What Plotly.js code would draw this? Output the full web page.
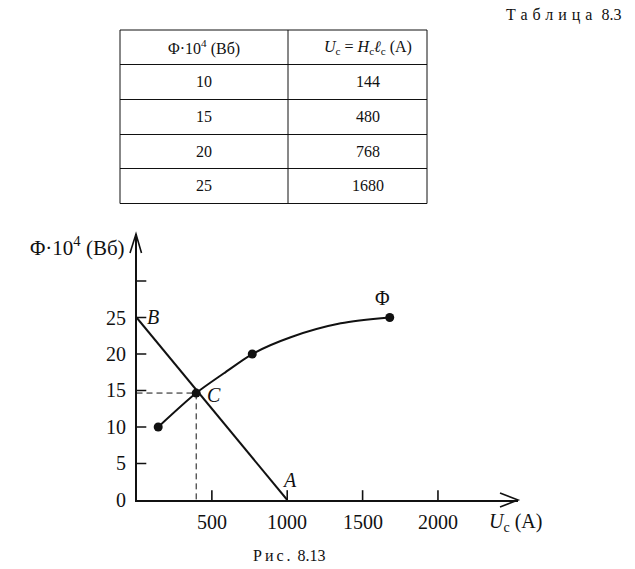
<!DOCTYPE html>
<html>
<head>
<meta charset="utf-8">
<script src="https://cdn.plot.ly/plotly-3.0.1.min.js"></script>
<style>html,body{margin:0;padding:0;background:#fff;}</style>
</head>
<body>
<div id="chart" style="width:635px;height:569px;"></div>
<script>
// ---- Table 8.3 data ----
const tableHeader = ["Φ·10<sup>4</sup> (Вб)", "<i>U</i><sub>c</sub> = <i>H</i><sub>c</sub><i>ℓ</i><sub>c</sub> (A)"];
const phiTable = [10, 15, 20, 25];
const ucTable = [144, 480, 768, 1680];

// ---- Fig. 8.13 data ----
const curveU   = [144, 396, 580, 768, 1023, 1355, 1680];
const curvePhi = [10, 14.65, 17.36, 20, 22.3, 24.2, 25];
const markU    = [144, 768, 1680];
const markPhi  = [10, 20, 25];
const lineABU   = [0, 1000];
const lineABPhi = [25, 0];
const pointCU   = 396;
const pointCPhi = 14.65;
const xTickVals = [500, 1000, 1500, 2000];
const xTickText = ["500", "1000", "1500", "2000"];
const yTickVals = [0, 5, 10, 15, 20, 25];
const yTickText = ["0", "5", "10", "15", "20", "25"];
const yTickMarks = [5, 10, 15, 20, 25, 30];

const W = 635, H = 569;
const px = v => v / W;
const py = v => 1 - v / H;
const serif = "Liberation Serif";
const ink = "#111";

// ---- table geometry (layout only) ----
const tblCols = [120, 288, 427];
const tblRows = [30, 64.5, 99.5, 134.5, 168.5, 203.5];
const tblTextX = [204, 368];

const shapes = [];
const annotations = [];
const tableFont = {family: serif, size: 16, color: ink};
tblRows.forEach(r => shapes.push({type: "line", xref: "paper", yref: "paper",
  x0: px(tblCols[0]), x1: px(tblCols[2]), y0: py(r), y1: py(r),
  line: {color: ink, width: 1}}));
tblCols.forEach(c => shapes.push({type: "line", xref: "paper", yref: "paper",
  x0: px(c), x1: px(c), y0: py(tblRows[0]), y1: py(tblRows[tblRows.length - 1]),
  line: {color: ink, width: 1}}));
const tableCols = [tableHeader.slice(0, 1).concat(phiTable.map(String)),
                   tableHeader.slice(1, 2).concat(ucTable.map(String))];
tableCols.forEach((col, ci) => col.forEach((txt, ri) => {
  annotations.push({xref: "paper", yref: "paper",
    x: px(tblTextX[ci]), y: py((tblRows[ri] + tblRows[ri + 1]) / 2),
    xanchor: "center", yanchor: "middle", showarrow: false,
    text: txt, font: tableFont});
}));

const traces = [
  {
    type: "scatter", mode: "lines",
    x: [0, pointCU, pointCU], y: [pointCPhi, pointCPhi, 0],
    line: {color: ink, width: 1, dash: "6px,4px"}, hoverinfo: "skip"
  },
  {
    type: "scatter", mode: "lines",
    x: lineABU, y: lineABPhi,
    line: {color: ink, width: 2}, hoverinfo: "skip"
  },
  {
    type: "scatter", mode: "lines",
    x: curveU, y: curvePhi,
    line: {color: ink, width: 2, shape: "spline", smoothing: 0.8}, hoverinfo: "skip"
  },
  {
    type: "scatter", mode: "markers",
    x: markU.concat([pointCU]), y: markPhi.concat([pointCPhi]),
    marker: {color: ink, size: 9}, hoverinfo: "skip"
  },
  {
    type: "scatter", mode: "markers",
    x: xTickVals, y: xTickVals.map(() => 0),
    marker: {symbol: "line-ns", size: 14, line: {color: ink, width: 1.6}}, hoverinfo: "skip"
  },
  {
    type: "scatter", mode: "markers",
    x: yTickMarks.map(() => 0), y: yTickMarks,
    marker: {symbol: "line-ew", size: 14, line: {color: ink, width: 1.6}}, hoverinfo: "skip"
  }
];

const axisFont = {family: serif, size: 20, color: ink};

// tick labels placed through the axes' own scales
xTickVals.forEach((v, i) => annotations.push({xref: "x", yref: "y", x: v, y: 0,
  xanchor: "center", yanchor: "middle", yshift: -22, showarrow: false,
  text: xTickText[i], font: axisFont}));
yTickVals.forEach((v, i) => annotations.push({xref: "x", yref: "y", x: 0, y: v,
  xanchor: "right", yanchor: "middle", xshift: -9, showarrow: false,
  text: yTickText[i], font: axisFont}));

shapes.push(
  {type: "path", xref: "paper", yref: "paper",
   path: `M ${px(500)},${py(493)} L ${px(518)},${py(500)} L ${px(500)},${py(507)}`,
   line: {color: ink, width: 1.6}},
  {type: "path", xref: "paper", yref: "paper",
   path: `M ${px(130)},${py(253)} L ${px(136)},${py(234)} L ${px(141.5)},${py(253)}`,
   line: {color: ink, width: 1.6}}
);

annotations.push(
  {xref: "paper", yref: "paper", x: px(563), y: py(15), xanchor: "center", yanchor: "middle",
   text: '<span style="letter-spacing:5px">Таблица</span> 8.3', showarrow: false,
   font: {family: serif, size: 16, color: ink}},
  {xref: "paper", yref: "paper", x: px(127), y: py(246), xanchor: "right", yanchor: "middle",
   text: "Φ·10<sup>4</sup> (Вб)", showarrow: false, font: {family: serif, size: 21, color: ink}},
  {xref: "paper", yref: "paper", x: px(487), y: py(522), xanchor: "left", yanchor: "middle",
   text: "<i>U</i><sub>c</sub> (A)", showarrow: false, font: axisFont},
  {xref: "paper", yref: "paper", x: px(153), y: py(317), xanchor: "center", yanchor: "middle",
   text: "<i>B</i>", showarrow: false, font: axisFont},
  {xref: "paper", yref: "paper", x: px(214), y: py(395), xanchor: "center", yanchor: "middle",
   text: "<i>C</i>", showarrow: false, font: axisFont},
  {xref: "paper", yref: "paper", x: px(289), y: py(480), xanchor: "center", yanchor: "middle",
   text: "<i>A</i>", showarrow: false, font: axisFont},
  {xref: "paper", yref: "paper", x: px(382), y: py(298), xanchor: "center", yanchor: "middle",
   text: "Φ", showarrow: false, font: axisFont},
  {xref: "paper", yref: "paper", x: px(289.5), y: py(555), xanchor: "center", yanchor: "middle",
   text: '<span style="letter-spacing:3px">Рис.</span> 8.13', showarrow: false,
   font: {family: serif, size: 16, color: ink}}
);

const layout = {
  width: W, height: H,
  margin: {l: 0, r: 0, t: 0, b: 0},
  paper_bgcolor: "#fff", plot_bgcolor: "rgba(0,0,0,0)",
  showlegend: false,
  xaxis: {
    domain: [px(136.5), px(518)],
    range: [0, 2531],
    showgrid: false, zeroline: false,
    showline: true, linecolor: ink, linewidth: 2,
    ticks: "", showticklabels: false,
    fixedrange: true
  },
  yaxis: {
    domain: [py(500), py(234)],
    range: [0, 36.44],
    showgrid: false, zeroline: false,
    showline: true, linecolor: ink, linewidth: 2,
    ticks: "", showticklabels: false,
    fixedrange: true
  },
  shapes: shapes,
  annotations: annotations
};

Plotly.newPlot("chart", traces, layout, {staticPlot: true, displayModeBar: false});
</script>
</body>
</html>
